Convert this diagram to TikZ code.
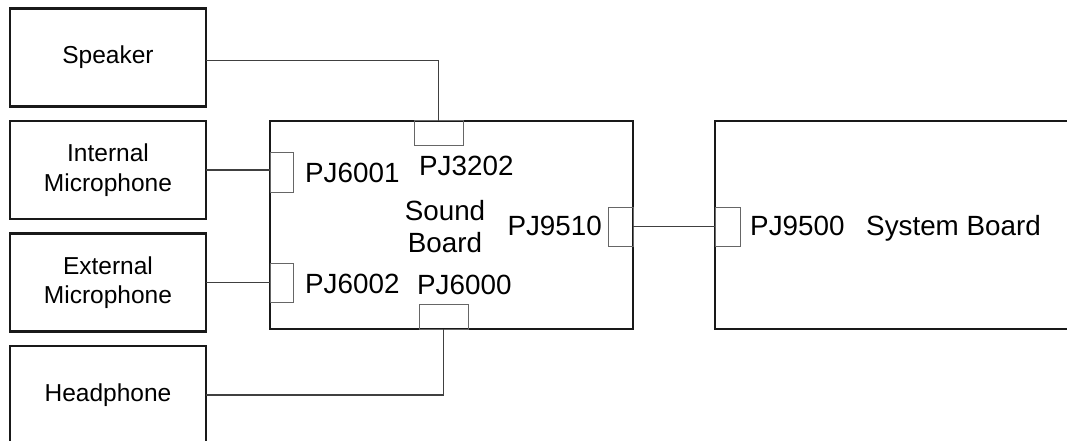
\documentclass[tikz,border=0pt]{standalone}
\usepackage{fontspec}
\setsansfont{Liberation Sans}
\usetikzlibrary{positioning}

\begin{document}
\begin{tikzpicture}[
  x=1pt, y=-1pt,
  font=\sffamily,
  node distance=14.5pt,
  unit/.style={
    draw=black!90,
    line width=2.4pt,
    outer sep=0pt,
    align=center,
    minimum width=196pt,
    minimum height=98pt,
    font=\fontsize{24.5}{29.5}\selectfont\sffamily
  },
  board/.style={
    draw=black!90,
    line width=2.4pt,
    outer sep=0pt,
    minimum height=208pt
  },
  jack/.style={
    draw=black!60,
    line width=1pt,
    outer sep=0pt,
    inner sep=0pt
  },
  wire/.style={line width=1.2pt, draw=black!75},
  tag/.style={inner sep=0pt, font=\fontsize{27.8}{32}\selectfont\sffamily}
]
\useasboundingbox (0,0) rectangle (1067,441);
\clip (0,0) rectangle (1067,441);

% left column
\node[unit] (speaker) at (108,57.5) {Speaker};
\node[unit, below=of speaker] (intmic) {Internal\\Microphone};
\node[unit, below=of intmic] (extmic) {External\\Microphone};
\node[unit, below=of extmic] (headphone) {Headphone};

% boards
\node[board, minimum width=363pt] (sound) at (451.5,225) {};
\node[board, minimum width=375pt] (system) at (902.5,225) {};

% jacks on the boards
\node[jack, minimum width=49pt, minimum height=24pt] (pj3202) at (438.5,133) {};
\node[jack, minimum width=49pt, minimum height=25pt] (pj6000) at (443.5,316.5) {};
\node[jack, minimum width=23pt, minimum height=40pt] (pj6001) at (281.5,172) {};
\node[jack, minimum width=23pt, minimum height=39pt] (pj6002) at (281.5,282.5) {};
\node[jack, minimum width=25pt, minimum height=39pt] (pj9510) at (620.5,226.5) {};
\node[jack, minimum width=25pt, minimum height=39pt] (pj9500) at (727.5,226.5) {};

% labels
\node[tag, anchor=base west] (l3202) at (419,175) {PJ3202};
\node[tag, anchor=base west] (l6000) at (417,294) {PJ6000};
\node[tag, anchor=base west] (l6001) at (305,182) {PJ6001};
\node[tag, anchor=base west] (l6002) at (305,293) {PJ6002};
\node[tag, anchor=base east] (l9510) at (602,235) {PJ9510};
\node[tag, anchor=base west] (l9500) at (750,235) {PJ9500};
\node[tag, anchor=base west] (lsys) at (866,235) {System Board};
\node[tag, align=center] (lsound) at (445,227) {Sound\\Board};

% wires
\draw[wire] ([yshift=-3pt]speaker.east) -| (pj3202.north);
\draw[wire] (intmic.east) -- (intmic.east -| pj6001.west);
\draw[wire] (extmic.east) -- (extmic.east -| pj6002.west);
\draw[wire] (headphone.east) -| (pj6000.south);
\draw[wire] (pj9510.east) -- (pj9500.west);

\end{tikzpicture}
\end{document}
